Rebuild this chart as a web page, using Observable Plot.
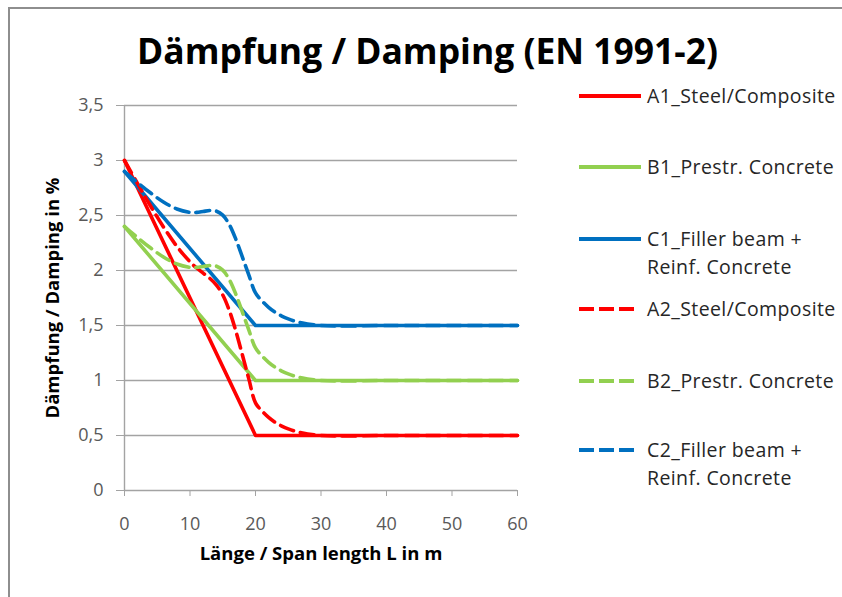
<!DOCTYPE html>
<html><head><meta charset="utf-8">
<script src="https://cdn.jsdelivr.net/npm/d3@7"></script>
<script src="https://cdn.jsdelivr.net/npm/@observablehq/plot@0.6"></script>
<style>
html,body{margin:0;padding:0;background:#fff;}
#wrap{position:relative;width:842px;height:597px;overflow:hidden;background:#fff;font-family:"Open Sans",sans-serif;}
#wrap > svg{position:absolute;left:0;top:0;}
#frame{position:absolute;left:8px;top:7px;width:900px;height:700px;border-left:2px solid #8e8e8e;border-top:2px solid #8e8e8e;pointer-events:none;}
.leg{position:absolute;left:578px;display:flex;align-items:flex-start;font-size:19.5px;letter-spacing:0.4px;color:#262626;line-height:28px;}
.leg svg{flex:none;margin-top:10px;margin-right:5px;}
</style></head><body><div id="wrap"></div>
<script>
// Title / axis texts
const chartTitle = "Dämpfung / Damping (EN 1991-2)";
const xTitle = "Länge / Span length L in m";
const yTitle = "Dämpfung / Damping in %";

// Ticks
const xTicks = [0, 10, 20, 30, 40, 50, 60];
const yTicks = [0, 0.5, 1, 1.5, 2, 2.5, 3, 3.5];
const yTickLabels = ["0", "0,5", "1", "1,5", "2", "2,5", "3", "3,5"];

// Series names
const seriesNames = ["A1_Steel/Composite", "B1_Prestr. Concrete", "C1_Filler beam +\nReinf. Concrete",
                     "A2_Steel/Composite", "B2_Prestr. Concrete", "C2_Filler beam +\nReinf. Concrete"];
const seriesColors = ["#ff0000", "#92d050", "#0070c0", "#ff0000", "#92d050", "#0070c0"];

// Solid series (span length L in m)
const lengthSolid = [0, 20, 60];
const a1 = [3.0, 0.5, 0.5];
const b1 = [2.4, 1.0, 1.0];
const c1 = [2.9, 1.5, 1.5];

// Dashed series
const lengthDashed = [0, 2, 4, 6, 8, 10, 11, 12, 13, 14, 15, 16, 17, 18, 19, 20, 21, 22, 23, 24, 25, 27, 30, 40, 50, 60];
const a2 = [3.0, 2.789, 2.584, 2.391, 2.219, 2.079, 2.023, 1.976, 1.930, 1.870, 1.778, 1.637, 1.449, 1.232, 1.010, 0.796, 0.723, 0.665, 0.620, 0.586, 0.560, 0.524, 0.5, 0.5, 0.5, 0.5];
const b2 = [2.4, 2.299, 2.204, 2.121, 2.059, 2.029, 2.028, 2.036, 2.045, 2.040, 2.003, 1.917, 1.784, 1.622, 1.455, 1.296, 1.223, 1.165, 1.120, 1.086, 1.060, 1.024, 1.0, 1.0, 1.0, 1.0];
const c2 = [2.9, 2.799, 2.704, 2.621, 2.559, 2.529, 2.528, 2.536, 2.545, 2.540, 2.503, 2.417, 2.284, 2.122, 1.955, 1.796, 1.723, 1.665, 1.620, 1.586, 1.560, 1.524, 1.5, 1.5, 1.5, 1.5];

const seriesData = [
  {xs: lengthSolid, ys: a1, dashed: false},
  {xs: lengthSolid, ys: b1, dashed: false},
  {xs: lengthSolid, ys: c1, dashed: false},
  {xs: lengthDashed, ys: a2, dashed: true},
  {xs: lengthDashed, ys: b2, dashed: true},
  {xs: lengthDashed, ys: c2, dashed: true}
];
const DASH = "14,7";

const lineMarks = seriesData.map((s, i) => {
  const rows = s.xs.map((L, j) => ({L, v: s.ys[j]}));
  return Plot.line(rows, {
    x: "L", y: "v", stroke: seriesColors[i], strokeWidth: 3.6,
    curve: s.dashed ? "catmull-rom" : "linear",
    strokeDasharray: s.dashed ? DASH : null,
    strokeLinejoin: "round"
  });
});

const chart = Plot.plot({
  width: 842, height: 597,
  marginLeft: 124, marginRight: 325, marginTop: 105, marginBottom: 107,
  style: {fontFamily: "'Open Sans', sans-serif", fontSize: "18px", background: "transparent", color: "#595959"},
  x: {domain: [0, 60]},
  y: {domain: [0, 3.5]},
  marks: [
    Plot.ruleY(yTicks, {stroke: "#a3a3a3", strokeWidth: 1.4}),
    Plot.ruleX([0], {stroke: "#a3a3a3", strokeWidth: 1.4}),
    Plot.axisY({ticks: yTicks, tickSize: 8, tickPadding: 13, stroke: "#a3a3a3", fill: "#595959",
      tickFormat: d => yTickLabels[yTicks.indexOf(d)], label: null}),
    Plot.axisX({ticks: xTicks, tickSize: 6, tickPadding: 21, stroke: "#a3a3a3", fill: "#595959", label: null}),
    ...lineMarks,
    Plot.text([yTitle], {text: d => d, frameAnchor: "left", dx: -71, rotate: -90, textAnchor: "middle",
      fontWeight: "bold", fontSize: 18.5, fill: "#000"}),
    Plot.text([xTitle], {text: d => d, frameAnchor: "bottom", dy: 69, textAnchor: "middle",
      fontWeight: "bold", fontSize: 18.5, fill: "#000"})
  ]
});

const wrap = document.getElementById("wrap");
wrap.appendChild(chart);

// Title
const ns = "http://www.w3.org/2000/svg";
const tsvg = document.createElementNS(ns, "svg");
tsvg.setAttribute("width", 842); tsvg.setAttribute("height", 90);
const tt = document.createElementNS(ns, "text");
tt.setAttribute("x", 427.5); tt.setAttribute("y", 64);
tt.setAttribute("text-anchor", "middle");
tt.setAttribute("font-family", "'Open Sans', sans-serif");
tt.setAttribute("font-weight", "bold");
tt.setAttribute("font-size", 35);
tt.setAttribute("textLength", 581);
tt.setAttribute("lengthAdjust", "spacingAndGlyphs");
tt.setAttribute("fill", "#000");
tt.textContent = chartTitle;
tsvg.appendChild(tt);
wrap.appendChild(tsvg);

// Frame
const frame = document.createElement("div");
frame.id = "frame";
wrap.appendChild(frame);

// Legend
const legendCenters = [96, 167, 239, 309, 381, 450];
seriesNames.forEach((name, i) => {
  const div = document.createElement("div");
  div.className = "leg";
  div.style.top = (legendCenters[i] - 14) + "px";
  const sw = document.createElementNS(ns, "svg");
  sw.setAttribute("width", 64); sw.setAttribute("height", 8);
  const ln = document.createElementNS(ns, "line");
  ln.setAttribute("x1", 1); ln.setAttribute("x2", seriesData[i].dashed ? 58 : 63);
  ln.setAttribute("y1", 4); ln.setAttribute("y2", 4);
  ln.setAttribute("stroke", seriesColors[i]);
  ln.setAttribute("stroke-width", 4);
  if (seriesData[i].dashed) ln.setAttribute("stroke-dasharray", "15,5");
  sw.appendChild(ln);
  div.appendChild(sw);
  const txt = document.createElement("div");
  txt.innerHTML = name.split("\n").join("<br>");
  div.appendChild(txt);
  wrap.appendChild(div);
});
</script>
</body></html>
